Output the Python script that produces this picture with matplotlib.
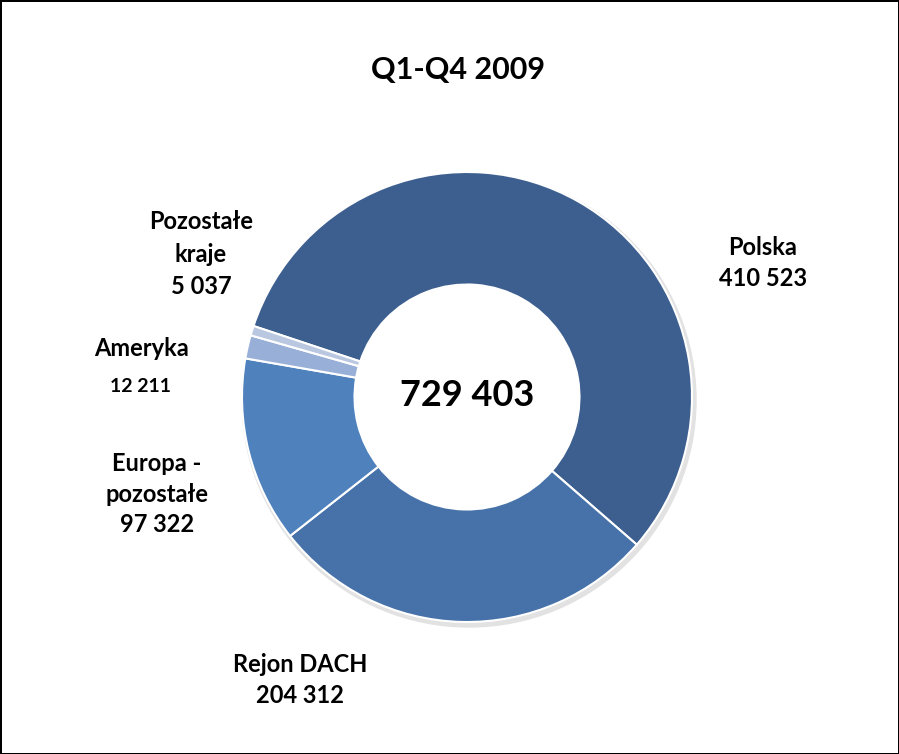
import matplotlib.pyplot as plt

plt.rcParams['font.family'] = ['Lato', 'DejaVu Sans']

# dane
labels = ['Polska', 'Rejon DACH', 'Europa -\npozostałe', 'Ameryka', 'Pozostałe\nkraje']
values = [410523, 204312, 97322, 12211, 5037]
value_text = ['410 523', '204 312', '97 322', '12 211', '5 037']
total_text = '729 403'
colors = ['#3D5F8F', '#4672A9', '#4F81BD', '#98B0D8', '#BAC7E1']

fig = plt.figure(figsize=(8.99, 7.54), dpi=100)
fig.patch.set_edgecolor('black')
fig.patch.set_linewidth(2)
ax = fig.add_axes([0, 0, 1, 1])
ax.set_xlim(0, 899)
ax.set_ylim(754, 0)
ax.set_aspect('equal')
ax.axis('off')

cx, cy, r = 467, 397, 225

# cien pod wykresem
ax.add_patch(plt.Circle((cx + 2, cy + 3), r + 2, color='#e2e2e2', zorder=0))
ax.add_patch(plt.Circle((cx, cy), r * 0.5, color='white', zorder=0.5))

ax.pie(values, colors=colors, startangle=-161.6, counterclock=True,
       center=(cx, cy), radius=r, frame=True,
       wedgeprops=dict(width=r * 0.5, edgecolor='white', linewidth=1.5))
ax.set_xlim(0, 899)
ax.set_ylim(754, 0)
ax.axis('off')

ax.text(458, 70, 'Q1-Q4 2009', ha='center', va='center', fontsize=22, fontweight='bold')
ax.text(cx, 396, total_text, ha='center', va='center', fontsize=26, fontweight='bold')

# etykiety
fs = 17
ax.text(763, 263, labels[0] + '\n' + value_text[0], ha='center', va='center',
        fontsize=fs, fontweight='bold', linespacing=1.45)
ax.text(300, 680, labels[1] + '\n' + value_text[1], ha='center', va='center',
        fontsize=fs, fontweight='bold', linespacing=1.4)
ax.text(157, 494, labels[2] + '\n' + value_text[2], ha='center', va='center',
        fontsize=fs, fontweight='bold', linespacing=1.4)
ax.text(141, 349, labels[3], ha='center', va='center', fontsize=fs, fontweight='bold')
ax.text(141, 387, value_text[3], ha='center', va='center', fontsize=14, fontweight='bold')
ax.text(201, 254, labels[4] + '\n' + value_text[4], ha='center', va='center',
        fontsize=fs, fontweight='bold', linespacing=1.5)

fig.savefig('out.png', dpi=100, edgecolor=fig.get_edgecolor())
